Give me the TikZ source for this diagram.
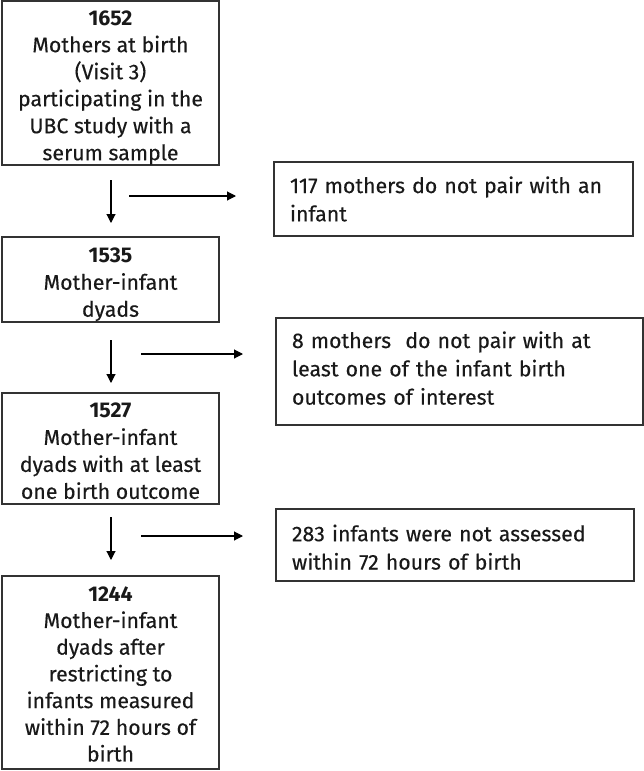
\documentclass[tikz,border=0pt]{standalone}
\usepackage{fontspec}
\setmainfont{Fira Sans}[UprightFeatures={FakeBold=0.35}]
\usetikzlibrary{arrows.meta}
\newcommand\topstrut[1]{\rule{0pt}{#1}}
\newcommand\botstrut[1]{\rule[-#1]{0pt}{1pt}}
\begin{document}
\begin{tikzpicture}[x=1pt,y=-1pt,
  every node/.style={inner sep=0pt,outer sep=0pt},
  mainbox/.style={draw=black!80,line width=1.1pt,minimum width=217pt,align=center,
     text=black!90,font=\fontsize{21.3}{27}\selectfont},
  sidebox/.style={draw=black!80,line width=1.1pt,align=left,anchor=north west,
     text=black!90,font=\fontsize{21.3}{28.3}\selectfont},
  flow/.style={line width=1.1pt,-{Triangle[length=9pt,width=9pt]}}]
\useasboundingbox (0,0) rectangle (644,771);
% main boxes
\node[mainbox,minimum height=164pt] (b1) at (110.5,83) {\topstrut{24pt}\textbf{1652}\\Mothers at birth\\(Visit 3)\\participating in the\\UBC study with a\\serum sample};
\node[mainbox,minimum height=85pt] (b2) at (110.5,279.5) {\topstrut{25pt}\textbf{1535}\\Mother-infant\\dyads};
\node[mainbox,minimum height=111pt] (b3) at (110.5,448.5) {\topstrut{20pt}\textbf{1527}\\Mother-infant\\dyads with at least\\one birth outcome};
\node[mainbox,minimum height=193pt,font=\fontsize{21.3}{26.7}\selectfont] (b4) at (110.5,672.5) {\topstrut{18pt}\textbf{1244}\\Mother-infant\\dyads after\\restricting to\\infants measured\\within 72 hours of\\birth};
% side boxes
\node[sidebox,minimum width=359pt,minimum height=74pt,text width=359pt] (s1) at (274,162) {\hspace*{16pt}117 mothers do not pair with an\\\hspace*{16pt}infant};
\node[sidebox,minimum width=367pt,minimum height=107pt,text width=367pt] (s2) at (276,318) {\hspace*{16pt}8 mothers\ \ do not pair with at\\\hspace*{16pt}least one of the infant birth\\\hspace*{16pt}outcomes of interest\botstrut{7pt}};
\node[sidebox,minimum width=358pt,minimum height=72pt,text width=358pt] (s3) at (276,509) {\hspace*{16pt}\topstrut{21pt}283 infants were not assessed\\\hspace*{16pt}within 72 hours of birth};
% arrow coordinates
\coordinate (d1a) at (111,180); \coordinate (d1b) at (111,223);
\coordinate (h1a) at (129,196); \coordinate (h1b) at (236,196);
\coordinate (d2a) at (111,340); \coordinate (d2b) at (111,383);
\coordinate (h2a) at (141,354); \coordinate (h2b) at (243,354);
\coordinate (d3a) at (111,517); \coordinate (d3b) at (111,560);
\coordinate (h3a) at (141,536); \coordinate (h3b) at (243,536);
\draw[flow] (d1a) -- (d1b);
\draw[flow] (h1a) -- (h1b);
\draw[flow] (d2a) -- (d2b);
\draw[flow] (h2a) -- (h2b);
\draw[flow] (d3a) -- (d3b);
\draw[flow] (h3a) -- (h3b);
\end{tikzpicture}
\end{document}
